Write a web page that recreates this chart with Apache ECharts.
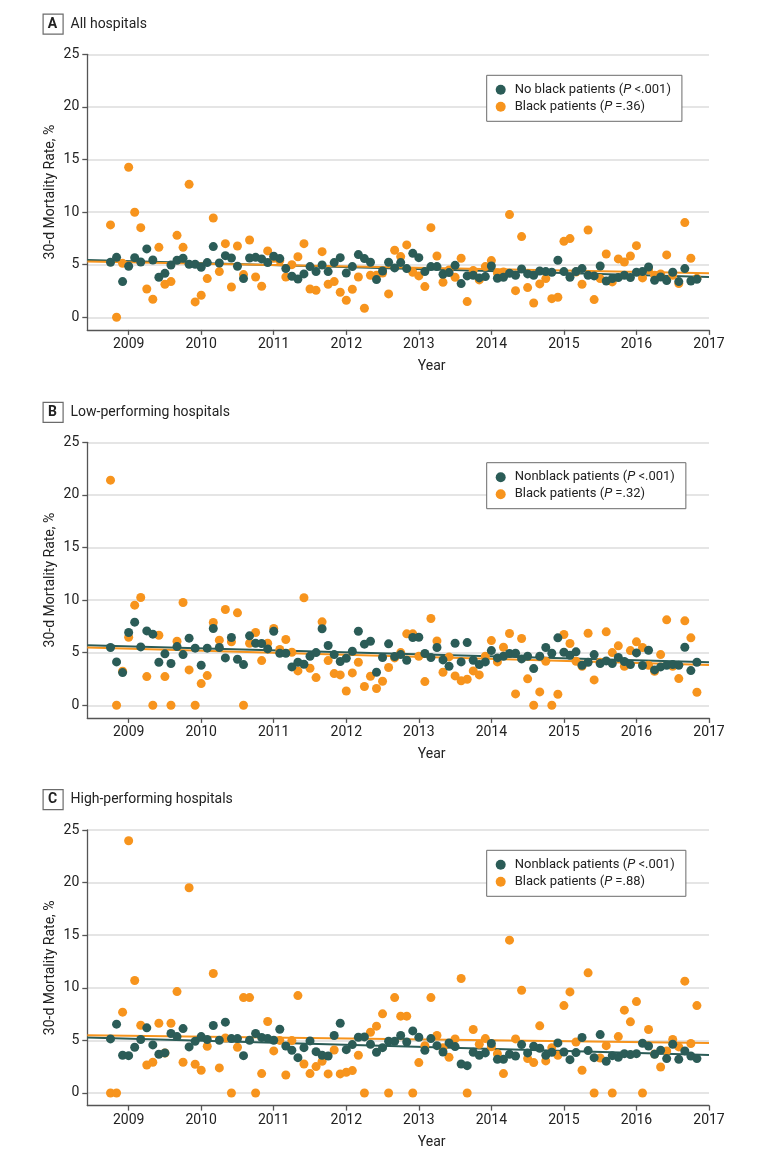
<!DOCTYPE html>
<html>
<head>
<meta charset="utf-8">
<script src="https://cdn.jsdelivr.net/npm/echarts@6/dist/echarts.min.js"></script>
<style>
html,body{margin:0;padding:0;background:#ffffff;}
#chart{width:780px;height:1160px;}
</style>
</head>
<body>
<div id="chart"></div>
<script>
// ---------- DATA (monthly, Oct 2008 .. Nov 2016) ----------
const firstYear = 2008;
const firstMonth = 10; // October
const yearTicks = [2009, 2010, 2011, 2012, 2013, 2014, 2015, 2016, 2017];
const yTicks = [0, 5, 10, 15, 20, 25];
const xRange = [2008.43, 2017];

const panelLetters = ['A', 'B', 'C'];
const panelTitles = ['All hospitals', 'Low-performing hospitals', 'High-performing hospitals'];
const nonblackNames = ['No black patients (P <.001)', 'Nonblack patients (P <.001)', 'Nonblack patients (P <.001)'];
const blackNames = ['Black patients (P =.36)', 'Black patients (P =.32)', 'Black patients (P =.88)'];

const A_nonblack = [5.23,5.70,3.39,4.85,5.67,5.26,6.50,5.45,3.80,4.18,4.97,5.42,5.61,5.04,5.04,4.75,5.2,6.72,5.16,5.86,5.64,4.85,3.68,5.64,5.70,5.55,5.2,5.80,5.58,4.63,3.90,3.64,4.12,4.82,4.34,4.97,4.34,5.2,5.67,4.21,4.82,5.96,5.58,5.23,3.58,4.40,5.23,
  4.69,5.2,4.63,6.08,5.67,4.34,4.82,4.82,4.09,4.25,4.94,3.2,3.93,3.99,3.74,3.87,4.88,3.71,3.8,4.18,3.99,4.59,4.12,3.99,4.40,4.34,4.28,5.42,4.34,3.80,4.34,4.63,3.99,3.93,4.88,3.45,3.68,3.77,3.99,3.77,4.28,4.34,4.78,3.52,3.83,3.49,4.28,3.39,4.63,3.45,3.61];
const A_black = [8.78,0,5.13,14.26,9.98,8.52,2.69,1.71,6.65,3.14,3.39,7.79,6.65,12.64,1.46,2.09,3.68,9.44,4.34,7.0,2.88,6.78,4.06,7.35,3.83,2.95,6.31,5.6,5.4,3.83,5.0,5.75,7.0,2.69,2.56,6.24,3.14,3.39,2.38,1.62,2.66,3.83,0.86,3.99,4.0,4.2,2.22,
  6.37,5.77,6.88,4.28,3.93,2.92,8.52,5.83,3.33,4.5,3.80,5.61,1.49,4.44,3.55,4.82,5.39,4.2,4.3,9.76,2.53,7.67,2.82,1.36,3.17,3.68,1.77,1.90,7.22,7.48,4.3,3.14,8.30,1.68,3.68,6.02,3.36,5.55,5.26,5.83,6.81,3.74,4.5,4.0,4.12,5.93,4.0,3.2,9.0,5.61,3.7];

const B_nonblack = [5.49,4.12,3.11,6.92,7.90,5.55,7.07,6.76,4.09,4.89,3.97,5.58,4.82,6.38,5.43,3.81,5.43,7.30,5.49,4.5,6.44,4.38,3.87,6.6,5.9,5.87,5.36,7.04,4.95,4.95,3.65,4.09,3.90,4.66,5.01,7.27,5.68,4.82,4.16,4.47,5.14,7.04,5.81,6.09,3.14,4.54,5.84,
  4.63,4.82,4.28,6.44,6.47,4.92,4.54,5.49,4.31,3.71,5.9,4.12,5.96,4.28,3.87,4.12,5.2,4.5,4.66,4.92,4.95,4.41,4.66,3.49,4.66,5.49,4.95,6.41,5.04,4.76,5.08,3.81,4.09,4.82,3.97,4.22,3.97,4.54,4.16,3.87,4.98,3.78,5.23,3.36,3.65,3.81,3.87,3.81,5.52,3.30,4.09];
const B_black = [21.4,0,3.24,6.47,9.52,10.25,2.73,0,6.66,2.73,0,6.09,9.77,3.36,0,2.06,2.82,7.87,6.19,9.11,6.03,8.79,0,5.9,6.92,4.25,5.9,7.30,5.3,6.25,5.04,3.27,10.22,3.52,2.63,7.93,4.25,3.01,2.89,1.36,3.08,4.09,1.78,2.76,1.59,2.28,3.59,
  4.5,5.01,6.79,6.79,4.66,2.25,8.25,6.12,3.14,4.6,2.79,2.32,2.47,3.27,2.89,4.66,6.15,4.12,5.52,6.82,1.08,6.35,2.51,0,1.27,4.19,0,1.05,6.73,5.87,4.19,3.71,6.85,2.41,4.1,6.98,5.01,5.65,3.71,5.2,6.03,5.49,3.81,3.24,4.82,8.12,3.71,2.54,8.03,6.41,1.24];

const C_nonblack = [5.14,6.54,3.59,3.55,4.35,5.08,6.19,4.57,3.68,3.81,5.65,5.36,6.12,4.38,4.92,5.36,5.08,6.41,5.01,6.73,5.17,5.17,3.55,5.01,5.65,5.27,5.17,5.01,6.06,4.47,4.06,3.36,4.31,4.95,3.93,3.59,3.52,5.46,6.63,4.12,4.6,5.3,5.33,4.63,3.87,4.31,4.92,
  4.92,5.46,4.85,5.90,5.30,4.06,5.17,4.5,3.90,4.76,4.41,2.76,2.60,3.87,3.59,3.81,4.70,3.2,3.2,3.68,3.52,4.6,3.81,4.44,4.25,3.59,3.87,4.76,3.90,3.17,3.84,5.27,4.03,3.36,5.55,3.01,3.55,3.39,3.74,3.65,3.74,4.73,4.47,3.68,4.06,3.27,4.63,3.2,4.0,3.52,3.27];
const C_black = [0,0,7.68,23.98,10.69,6.44,2.66,2.92,6.63,3.8,6.63,9.64,2.92,19.51,2.73,2.16,4.44,11.36,2.38,5.23,0,4.35,9.07,9.07,0,1.84,6.79,4.0,5.0,1.71,4.98,9.26,2.76,1.84,2.51,3.01,1.81,4.09,1.81,1.97,2.13,3.59,0,5.77,6.35,7.52,0,
  9.07,7.3,7.3,0,2.89,4.5,9.07,5.46,4.3,3.39,5.14,10.88,0,6.03,4.63,5.17,4.4,3.74,1.84,14.53,5.14,9.77,3.27,2.89,6.38,3.05,4.31,3.59,8.31,9.61,4.85,2.16,11.42,0,3.33,4.5,0,5.36,7.87,6.76,8.69,0,6.03,3.7,2.47,4.0,5.08,4.38,10.63,4.7,8.31];

// fitted trend lines, value at the left and right ends of the x range
const A_trend_nonblack = [5.45, 3.83];
const A_trend_black = [5.30, 4.18];
const B_trend_nonblack = [5.71, 4.09];
const B_trend_black = [5.49, 3.83];
const C_trend_nonblack = [5.27, 3.62];
const C_trend_black = [5.49, 4.76];

// ---------- BUILD ----------
const TEAL = '#2b5c57';
const ORANGE = '#f7941d';
const FONT = "Roboto, 'Liberation Sans', Arial, sans-serif";
const TXT = '#222222';
const AXIS = '#555555';

const nonblackSets = [A_nonblack, B_nonblack, C_nonblack];
const blackSets = [A_black, B_black, C_black];
const trendNB = [A_trend_nonblack, B_trend_nonblack, C_trend_nonblack];
const trendB = [A_trend_black, B_trend_black, C_trend_black];

const monthX = i => firstYear + (firstMonth - 1 + i) / 12;
const toPts = arr => arr.map((v, i) => [monthX(i), v]);

const gridTops = [54.3, 442.3, 830];
const gridH = 275.6;
const boxTops = [13.5, 401.7, 789];
const legendTops = [75.3, 462.7, 850.3];

const grids = [], xAxes = [], yAxes = [], series = [], legends = [], graphics = [];

for (let p = 0; p < 3; p++) {
  grids.push({ left: 87.3, width: 621.7, top: gridTops[p], height: gridH, containLabel: false });
  xAxes.push({
    type: 'value', gridIndex: p, min: xRange[0], max: xRange[1],
    axisLine: { show: true, onZero: false, lineStyle: { color: AXIS, width: 1.3 } },
    axisTick: { show: true, customValues: yearTicks, length: 5, lineStyle: { color: AXIS, width: 1.3 } },
    axisLabel: { customValues: yearTicks, formatter: v => String(v), fontFamily: FONT, fontSize: 14, color: TXT, margin: 8 },
    splitLine: { show: false },
    name: 'Year', nameLocation: 'middle', nameGap: 30, nameMoveOverlap: false,
    nameTextStyle: { fontFamily: FONT, fontSize: 14, color: TXT, padding: [0, 0, 0, 67] }
  });
  yAxes.push({
    type: 'value', gridIndex: p, min: -1.2, max: 25,
    axisLine: { show: true, lineStyle: { color: AXIS, width: 1.3 } },
    axisTick: { show: true, customValues: yTicks, length: 5, lineStyle: { color: AXIS, width: 1.3 } },
    axisLabel: { customValues: yTicks, fontFamily: FONT, fontSize: 14, color: TXT, margin: 8 },
    splitLine: { show: true, lineStyle: { color: '#dcdcdc', width: 1.5 } },
    name: '30-d Mortality Rate, %', nameLocation: 'middle', nameGap: 30, nameMoveOverlap: false,
    nameTextStyle: { fontFamily: FONT, fontSize: 14, color: TXT }
  });

  series.push({
    name: 'trend-nb-' + p, type: 'line', xAxisIndex: p, yAxisIndex: p, silent: true,
    showSymbol: false, symbol: 'none', z: 1,
    lineStyle: { color: TEAL, width: 2 }, itemStyle: { color: TEAL },
    data: [[xRange[0], trendNB[p][0]], [xRange[1], trendNB[p][1]]]
  });
  series.push({
    name: 'trend-b-' + p, type: 'line', xAxisIndex: p, yAxisIndex: p, silent: true,
    showSymbol: false, symbol: 'none', z: 1,
    lineStyle: { color: ORANGE, width: 2 }, itemStyle: { color: ORANGE },
    data: [[xRange[0], trendB[p][0]], [xRange[1], trendB[p][1]]]
  });
  series.push({
    name: blackNames[p], type: 'scatter', xAxisIndex: p, yAxisIndex: p, z: 2,
    symbolSize: 9, itemStyle: { color: ORANGE, opacity: 1 },
    data: toPts(blackSets[p])
  });
  series.push({
    name: nonblackNames[p], type: 'scatter', xAxisIndex: p, yAxisIndex: p, z: 3,
    symbolSize: 9, itemStyle: { color: TEAL, opacity: 1 },
    data: toPts(nonblackSets[p])
  });

  legends.push({
    data: [nonblackNames[p], blackNames[p]],
    orient: 'vertical', left: 486.7, top: legendTops[p],
    backgroundColor: '#ffffff', borderColor: '#6b6b6b', borderWidth: 1, borderRadius: 0,
    padding: [8, 11, 8, 9], itemGap: 4, itemWidth: 10, itemHeight: 10, icon: 'circle',
    selectedMode: false,
    formatter: name => {
      const m = name.match(/^(.*\()P(.*)$/);
      return m ? '{n|' + m[1] + '}{i|P}{n|' + m[2] + '}' : name;
    },
    textStyle: {
      padding: [0, 0, 0, 4],
      rich: {
        n: { fontFamily: FONT, fontSize: 13, color: TXT },
        i: { fontFamily: FONT, fontSize: 13, color: TXT, fontStyle: 'italic' }
      }
    }
  });

  graphics.push({
    type: 'rect', left: 42.5, top: boxTops[p], silent: true,
    shape: { width: 20, height: 20 },
    style: { fill: '#ffffff', stroke: '#6b6b6b', lineWidth: 1.2 }
  });
  graphics.push({
    type: 'text', x: 52.5, y: boxTops[p] + 10.5, silent: true,
    style: { text: panelLetters[p], fontFamily: FONT, fontWeight: 'bold', fontSize: 14, fill: TXT, align: 'center', verticalAlign: 'middle' }
  });
  graphics.push({
    type: 'text', x: 70.5, y: boxTops[p] + 10.5, silent: true,
    style: { text: panelTitles[p], fontFamily: FONT, fontSize: 14, fill: TXT, align: 'left', verticalAlign: 'middle' }
  });
}

const chart = echarts.init(document.getElementById('chart'), null, { renderer: 'canvas' });
chart.setOption({
  animation: false,
  backgroundColor: '#ffffff',
  textStyle: { fontFamily: FONT },
  grid: grids, xAxis: xAxes, yAxis: yAxes, series: series, legend: legends, graphic: graphics
});
</script>
</body>
</html>
